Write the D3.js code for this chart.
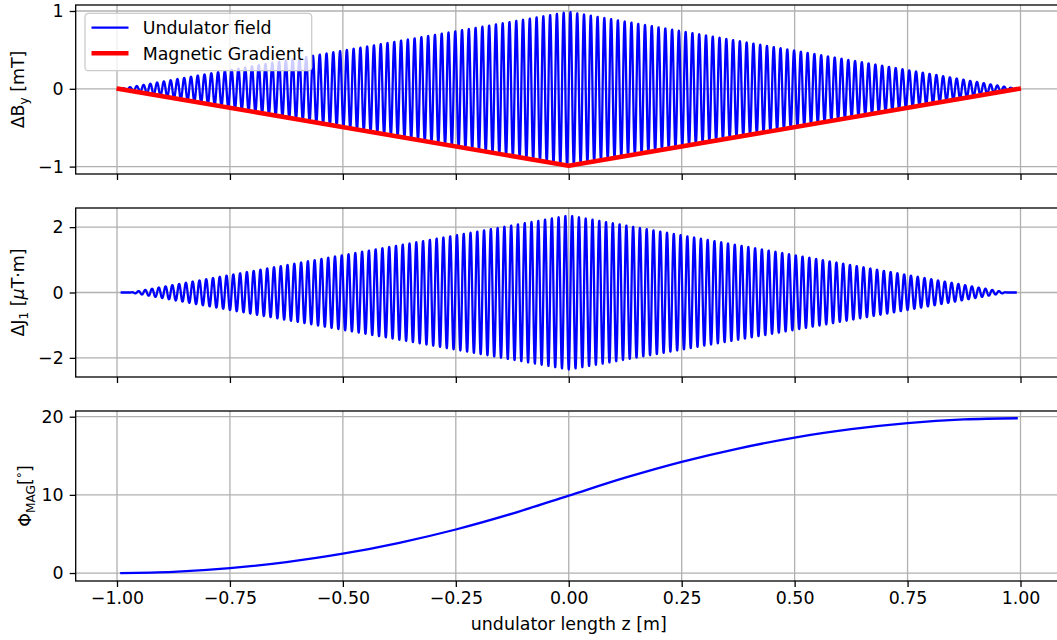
<!DOCTYPE html>
<html><head><meta charset="utf-8">
<script src="https://cdn.jsdelivr.net/npm/d3@7"></script>
<style>
body{margin:0;background:#fff}
text{font-family:"DejaVu Sans",sans-serif}
</style>
</head><body>
<svg id="c" width="1057" height="640"></svg>
<script>
// ---------------- data ----------------
const xTicks = [-1, -0.75, -0.5, -0.25, 0, 0.25, 0.5, 0.75, 1];
const xTickLabels = ["−1.00", "−0.75", "−0.50", "−0.25", "0.00", "0.25", "0.50", "0.75", "1.00"];
const bTicks = [-1, 0, 1];
const bTickLabels = ["−1", "0", "1"];
const jTicks = [-2, 0, 2];
const jTickLabels = ["−2", "0", "2"];
const phiTicks = [0, 10, 20];
const phiTickLabels = ["0", "10", "20"];

// undulator period read from the peak spacing (m)
const undulatorPeriod = 0.015;
// envelope of the undulator field oscillation (mT)
const fieldEnvZ = [-0.992, 0, 0.992];
const fieldEnvAmp = [0, 0.99, 0];
// magnetic gradient line (mT)
const gradientZ = [-0.996, 0, 0.996];
const gradientB = [0, -0.99, 0];
// envelope of the first field integral oscillation (uT*m)
const kickEnvZ = [-0.992, -0.97, 0, 0.97, 0.992];
const kickEnvAmp = [0, 0, 2.36, 0, 0];
// magnetic phase (deg)
const phaseZ = [-0.993, -0.875, -0.75, -0.625, -0.5, -0.375, -0.25, -0.125, 0, 0.125, 0.25, 0.375, 0.5, 0.625, 0.75, 0.875, 0.994];
const phaseDeg = [0, 0.15, 0.62, 1.4, 2.47, 3.87, 5.57, 7.6, 9.9, 12.2, 14.23, 15.93, 17.33, 18.4, 19.18, 19.65, 19.8];

// ---------------- layout ----------------
const FS = 17.4;
const svg = d3.select("#c");
const left = 75.7, right = 1061.8;
const panels = [
  {top: 5, bottom: 174, domain: [-1.095, 1.077], ticks: bTicks, labels: bTickLabels},
  {top: 208, bottom: 377, domain: [-2.585, 2.585], ticks: jTicks, labels: jTickLabels},
  {top: 411, bottom: 581, domain: [-1.02, 20.73], ticks: phiTicks, labels: phiTickLabels}
];
const x = d3.scaleLinear().domain([-1.0914, 1.0914]).range([left, right]);

// series built from the envelopes and the carrier period
const envB = d3.scaleLinear().domain(fieldEnvZ).range(fieldEnvAmp);
const envJ = d3.scaleLinear().domain(kickEnvZ).range(kickEnvAmp);
const zs = d3.range(fieldEnvZ[0], fieldEnvZ[fieldEnvZ.length - 1] + 1e-9, undulatorPeriod / 28);
const fieldSeries = zs.map(z => [z, envB(z) * Math.sin(2 * Math.PI * z / undulatorPeriod)]);
const kickSeries = zs.map(z => [z, -envJ(z) * Math.cos(2 * Math.PI * z / undulatorPeriod)]);
const gradientSeries = gradientZ.map((z, i) => [z, gradientB[i]]);
const phaseSeries = phaseZ.map((z, i) => [z, phaseDeg[i]]);

const ys = panels.map(p => d3.scaleLinear().domain(p.domain).range([p.bottom, p.top]));

panels.forEach((p, k) => {
  const y = ys[k];
  const g = svg.append("g");
  // grid
  g.append("g").selectAll("line").data(xTicks).join("line")
    .attr("x1", d => x(d)).attr("x2", d => x(d))
    .attr("y1", p.top).attr("y2", p.bottom)
    .attr("stroke", "#b0b0b0").attr("stroke-width", 1.3);
  g.append("g").selectAll("line").data(p.ticks).join("line")
    .attr("x1", left).attr("x2", right)
    .attr("y1", d => y(d)).attr("y2", d => y(d))
    .attr("stroke", "#b0b0b0").attr("stroke-width", 1.3);
  // axes
  const ax = d3.axisBottom(x).tickValues(xTicks).tickSize(6).tickPadding(5)
    .tickFormat((d, i) => k === 2 ? xTickLabels[i] : "");
  const gx = g.append("g").attr("transform", `translate(0,${p.bottom})`).call(ax);
  const ay = d3.axisLeft(y).tickValues(p.ticks).tickSize(6).tickPadding(6)
    .tickFormat((d, i) => p.labels[i]);
  const gy = g.append("g").attr("transform", `translate(${left},0)`).call(ay);
  [gx, gy].forEach(a => {
    a.select(".domain").remove();
    a.selectAll(".tick line").attr("stroke", "#000").attr("stroke-width", 1.3);
    a.selectAll(".tick text").attr("fill", "#000").attr("font-size", FS)
      .attr("font-family", "DejaVu Sans");
  });
  p.g = g;
});

const lineGen = (y) => d3.line().x(d => x(d[0])).y(d => y(d[1]));

// panel 1
panels[0].g.append("path").datum(fieldSeries).attr("d", lineGen(ys[0]))
  .attr("fill", "none").attr("stroke", "#0000ff").attr("stroke-width", 2.3)
  .attr("stroke-linejoin", "round");
panels[0].g.append("path").datum(gradientSeries).attr("d", lineGen(ys[0]))
  .attr("fill", "none").attr("stroke", "#ff0000").attr("stroke-width", 4.6)
  .attr("stroke-linejoin", "round").attr("stroke-linecap", "square");
// panel 2
panels[1].g.append("path").datum(kickSeries).attr("d", lineGen(ys[1]))
  .attr("fill", "none").attr("stroke", "#0000ff").attr("stroke-width", 2.3)
  .attr("stroke-linejoin", "round");
// panel 3
panels[2].g.append("path").datum(phaseSeries)
  .attr("d", d3.line().x(d => x(d[0])).y(d => ys[2](d[1])).curve(d3.curveMonotoneX))
  .attr("fill", "none").attr("stroke", "#0000ff").attr("stroke-width", 2.3);

// spines
panels.forEach(p => {
  p.g.append("rect").attr("x", left).attr("y", p.top)
    .attr("width", right - left).attr("height", p.bottom - p.top)
    .attr("fill", "none").attr("stroke", "#000").attr("stroke-width", 1.3);
});

// legend
const lg = panels[0].g.append("g");
lg.append("rect").attr("x", 85).attr("y", 13.3).attr("width", 226.7).attr("height", 57.4)
  .attr("rx", 3.5).attr("fill", "#fff").attr("fill-opacity", 0.8)
  .attr("stroke", "#cccccc").attr("stroke-width", 1.3);
const legendItems = [
  {label: "Undulator field", color: "#0000ff", w: 2.3, y: 27.7},
  {label: "Magnetic Gradient", color: "#ff0000", w: 4.6, y: 53.3}
];
legendItems.forEach(it => {
  lg.append("line").attr("x1", 91.5).attr("x2", 128.5).attr("y1", it.y).attr("y2", it.y)
    .attr("stroke", it.color).attr("stroke-width", it.w);
  lg.append("text").attr("x", 142.7).attr("y", it.y + 6.3).attr("font-size", FS)
    .attr("fill", "#000").text(it.label);
});

// axis labels
function ylabel(cx, cy, parts) {
  const t = svg.append("text").attr("transform", `translate(${cx},${cy}) rotate(-90)`)
    .attr("text-anchor", "middle").attr("font-size", FS).attr("fill", "#000");
  parts.forEach(pt => {
    const s = t.append("tspan").text(pt.t);
    if (pt.sub) s.attr("font-size", FS * 0.7).attr("dy", pt.dy);
    else if (pt.dy) s.attr("dy", pt.dy);
    if (pt.it) s.attr("font-style", "italic");
  });
}
ylabel(24, 89.5, [{t: "ΔB"}, {t: "y", sub: true, dy: 4}, {t: " [mT]", dy: -4}]);
ylabel(24, 292.5, [{t: "ΔJ"}, {t: "1", sub: true, dy: 4}, {t: " [", dy: -4}, {t: "μ", it: true}, {t: "T·m]"}]);
ylabel(31, 496, [{t: "Φ"}, {t: "MAG", sub: true, dy: 4}, {t: "[", dy: -4}, {t: "°", sub: true, dy: -5}, {t: "]", dy: 5}]);

svg.append("text").attr("x", (75.7 + 1061.8) / 2).attr("y", 630)
  .attr("text-anchor", "middle").attr("font-size", FS).attr("fill", "#000")
  .text("undulator length z [m]");
</script>
</body></html>
